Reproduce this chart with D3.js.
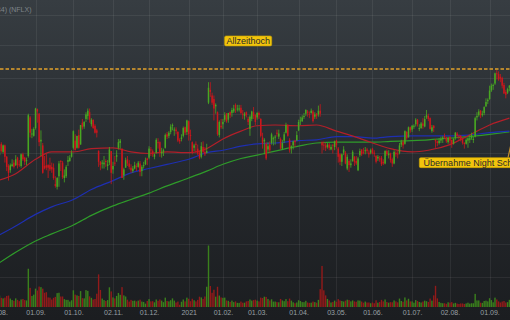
<!DOCTYPE html>
<html lang="de">
<head>
<meta charset="UTF-8">
<title>Netflix (NFLX)</title>
<script src="https://d3js.org/d3.v7.min.js"></script>
<style>
	html, body { margin: 0; padding: 0; background: #1c1e21; overflow: hidden; }
	svg { display: block; font-family: "Liberation Sans", Arial, sans-serif; }
</style>
</head>
<body>
<svg id="chart" width="510" height="320"></svg>
<script>
// daily candles, 03.08.2020 - 17.09.2021 (one row per month)
var opens = [
	502,497,511,501,509,495,484,479,484,488,485,494,486,484,498,494,490,496,545,523,521,
	531,556,550,514,509,484,485,485,485,483,482,463,460,472,490,488,470,472,489,490,495,
	506,515,506,522,510,538,533,543,547,552,536,542,534,528,502,489,487,486,490,484,488,502,
	480,488,495,506,512,505,473,482,492,487,482,478,481,484,483,487,478,484,486,493,
	494,504,502,495,500,513,513,499,501,506,523,521,526,534,528,529,526,516,517,521,532,526,
	540,522,513,506,511,505,500,495,507,501,500,565,583,575,570,560,552,522,534,
	536,542,550,542,552,551,553,562,556,556,558,550,547,552,543,530,543,552,548,
	545,551,543,519,514,511,504,510,512,517,519,525,520,517,505,515,525,534,516,505,509,515,515,
	528,540,540,546,550,553,550,551,553,546,550,549,554,513,510,509,507,510,504,510,507,
	515,505,498,489,500,500,481,490,485,490,495,490,479,497,504,501,502,504,500,500,
	505,500,496,493,493,494,489,487,502,497,499,492,487,500,499,500,510,513,511,526,519,532,
	529,533,536,542,530,531,537,533,545,547,544,527,534,516,514,512,515,517,521,519,513,
	520,516,511,518,524,521,521,517,512,511,515,516,518,516,520,545,548,554,548,551,560,567,
	570,582,589,592,607,606,602,600,590,580,579,586
];
var highs = [
	505,512,513,510,510,496,486,487,492,491,497,495,491,499,500,495,494,550,547,530,532,
	558,557,551,528,512,496,499,486,494,488,487,472,471,490,491,490,480,485,496,497,503,
	528,523,521,529,535,543,540,552,557,557,544,542,536,530,503,490,491,496,492,491,507,502,
	489,496,503,517,517,505,482,494,496,491,486,484,489,487,490,490,485,489,494,494,
	508,507,504,499,518,518,514,506,505,524,526,527,536,537,532,532,527,518,523,533,533,542,
	541,529,514,511,514,510,502,513,514,507,511,594,594,579,575,564,553,541,543,
	543,552,551,551,553,558,562,564,562,562,562,555,552,553,546,548,554,559,549,
	552,553,544,525,518,513,513,514,525,520,522,529,529,519,516,526,538,536,518,509,515,516,527,
	542,546,548,551,556,555,553,557,555,552,551,561,563,514,514,512,512,512,510,510,515,
	516,507,499,499,508,502,498,492,492,503,496,496,495,505,504,506,507,506,503,505,
	506,503,497,497,496,496,492,503,504,503,500,494,503,502,502,512,516,516,528,527,533,533,
	535,536,544,543,536,539,544,547,555,550,545,535,535,517,515,518,520,521,524,520,520,
	520,516,518,526,526,523,522,518,513,518,519,522,525,520,546,552,556,555,554,560,571,571,
	589,592,592,608,613,610,606,602,593,583,586,590
];
var lows = [
	494,495,500,499,488,478,467,476,483,481,484,481,483,482,490,485,485,494,519,518,520,
	529,538,508,496,475,480,479,470,478,476,468,459,457,460,478,469,465,470,484,489,494,
	504,503,505,505,510,529,530,539,542,538,533,530,524,519,483,479,481,481,483,479,485,463,
	475,484,489,504,505,470,468,482,484,480,476,476,480,478,482,472,472,481,485,485,
	492,496,495,492,499,505,495,494,496,505,517,518,523,528,521,523,513,511,514,519,522,522,
	515,515,498,502,500,497,492,493,499,496,499,563,573,562,541,550,521,519,530,
	530,539,538,538,544,546,551,551,553,553,549,543,542,545,535,521,540,543,535,
	542,543,519,505,498,491,501,500,510,509,510,520,517,504,504,512,524,520,500,499,504,507,515,
	527,535,539,543,547,546,544,550,538,543,543,546,546,499,503,502,505,503,503,499,503,
	505,488,485,484,497,486,479,477,482,489,484,485,478,495,496,498,498,499,494,498,
	498,495,487,490,489,484,485,486,496,493,488,483,486,495,493,498,507,505,510,516,519,525,
	526,530,533,533,527,530,530,532,543,540,529,525,526,506,508,510,512,512,517,512,511,
	511,506,510,516,518,516,514,510,505,510,506,512,516,512,519,541,546,544,546,548,559,563,
	569,580,583,590,598,596,594,585,577,571,577,581
];
var closes = [
	499,510,502,509,495,483,476,485,486,483,492,485,485,498,492,489,491,548,525,524,530,
	557,553,513,516,476,481,482,482,480,480,470,461,470,487,489,471,473,483,491,494,500,
	527,503,521,506,535,532,539,549,554,542,542,531,525,525,489,485,488,488,489,486,504,476,
	484,487,497,513,515,470,480,491,487,483,479,481,485,483,488,477,483,485,491,491,
	505,503,498,498,516,512,501,501,503,522,520,525,533,535,529,527,515,514,519,531,525,541,
	523,521,501,509,510,499,494,508,501,498,502,586,580,565,557,562,523,539,532,
	539,548,540,551,548,555,557,558,557,557,551,549,550,548,539,546,553,547,539,
	551,548,521,511,516,493,508,503,523,518,520,524,524,505,512,523,535,521,503,508,514,513,522,
	539,541,545,547,555,551,549,554,540,549,547,554,550,509,509,506,510,506,507,509,514,
	509,495,489,498,504,487,495,485,487,501,489,487,493,502,498,500,503,502,498,503,
	499,499,489,495,492,486,487,502,498,499,491,487,501,498,498,509,513,509,527,518,532,528,
	534,534,542,536,531,537,534,543,548,543,530,532,531,514,512,515,517,519,519,514,518,
	515,511,517,525,521,520,516,512,511,516,518,518,522,517,544,547,553,548,550,559,566,569,
	582,589,590,607,606,598,599,589,578,576,584,589
];
// volume in millions
var volumes = [
	5.2,6.1,4.9,4.6,5.0,5.9,6.1,4.5,3.7,3.3,4.6,3.8,3.1,4.0,4.3,3.7,3.5,20.4,10.2,5.9,6.6,
	9.8,8.8,10.9,10.6,9.8,7.6,7.9,5.1,5.0,4.0,4.9,5.4,7.4,7.6,5.6,5.6,4.2,3.8,3.8,2.9,3.6,
	8.9,6.6,6.2,5.9,8.5,4.7,4.6,9.0,8.6,5.7,4.9,4.0,4.3,7.1,17.4,9.1,4.5,3.7,3.2,3.7,10.5,8.3,
	5.1,4.6,5.9,7.5,6.5,10.6,6.2,5.6,3.9,2.9,3.8,3.3,3.4,3.0,3.4,3.9,2.9,2.7,1.8,3.2,
	4.2,3.0,3.1,2.5,4.0,3.3,4.0,3.4,2.6,5.0,3.2,3.0,3.6,4.6,3.4,2.4,2.9,1.2,2.8,4.0,3.0,5.0,
	4.4,3.1,4.4,3.6,3.0,3.8,5.5,5.1,4.3,5.6,10.8,32.8,11.2,7.6,9.2,5.5,10.8,6.1,5.1,
	4.9,5.0,3.5,3.3,2.7,3.4,2.6,3.0,2.2,2.2,2.9,2.3,2.3,3.0,3.2,4.0,3.4,3.7,3.9,
	3.4,3.0,5.0,4.8,5.5,5.4,4.3,3.5,4.1,2.9,2.9,2.6,2.5,4.3,3.5,3.1,4.2,3.1,4.5,3.4,2.5,2.0,2.4,
	3.6,3.2,2.6,2.6,3.3,2.4,2.2,2.3,2.9,2.6,2.3,3.8,9.5,21.9,8.9,6.2,4.3,3.5,2.4,2.7,3.4,
	2.8,4.2,3.5,3.2,2.9,3.4,3.9,3.7,3.0,3.5,3.0,2.8,3.5,3.4,2.9,2.3,2.9,2.4,2.4,2.0,
	2.4,2.0,3.6,2.3,2.7,3.8,3.0,4.0,2.7,2.3,2.6,2.5,3.5,3.0,2.5,4.5,3.2,2.8,5.1,3.5,4.4,3.0,
	3.0,2.3,3.7,3.2,2.7,2.4,2.9,3.4,3.1,2.7,4.5,3.4,6.2,11.3,4.6,2.7,2.2,2.0,2.0,1.7,2.5,
	2.3,2.6,1.9,2.2,1.8,1.6,1.9,1.9,1.6,1.9,2.3,1.8,2.0,2.0,7.0,3.5,3.5,2.3,2.2,3.2,3.4,3.0,
	4.7,3.7,2.5,5.0,4.0,3.0,2.4,2.9,3.2,2.4,2.6,3.8
];

// moving averages
var maDays = ["2020-08-03","2020-08-17","2020-09-01","2020-09-15","2020-10-01","2020-10-15",
	"2020-11-02","2020-11-16","2020-12-01","2020-12-15","2021-01-04","2021-01-19","2021-02-01",
	"2021-02-16","2021-03-01","2021-03-15","2021-04-01","2021-04-16","2021-05-03","2021-05-17",
	"2021-06-01","2021-06-15","2021-07-01","2021-07-15","2021-08-02","2021-08-16","2021-09-01","2021-09-17"];
var ma38  = [467,475,492,501,501,505,506,501,499,501,500,505,517,527,534,535,534,535,527,520,512,505,501,503,510,521,535,544];
var ma100 = [408,418,430,438,446,457,467,476,481,486,492,500,503,508,511,512,515,516,520,520,518,520,521,521,521,522,525,527];
var ma200 = [381,392,403,410,419,429,439,446,453,461,470,478,486,493,497,502,508,512,513,513,513,514,515,516,518,520,523,526];

var firstDay = "2020-08-03";
var holidays = ["2020-09-07","2020-11-26","2020-12-25","2021-01-01","2021-01-18","2021-02-15",
	"2021-04-02","2021-05-31","2021-07-05","2021-09-06"];

var priceGrid = [400, 450, 500, 550, 600, 650, 700];
var volumeGrid = [16];
var athPrice = 613;
var titleText = "Netflix Inc. (552484) (NFLX)";
var notes = [
	{text: "Allzeithoch", day: "2021-02-22", price: 657, anchor: "middle"},
	{text: "Übernahme Night School", day: "2021-07-09", price: 488, anchor: "start", target: "2021-09-28", targetPrice: 575}
];

var W = 510, H = 320;
var svg = d3.select("#chart");

// trading calendar
var parseDay = d3.utcParse("%Y-%m-%d"), fmtDay = d3.utcFormat("%Y-%m-%d");
var days = [];
var cur = parseDay(firstDay);
while (days.length < closes.length + 10) {
	var wd = cur.getUTCDay();
	if (wd != 0 && wd != 6 && holidays.indexOf(fmtDay(cur)) < 0) days.push(fmtDay(cur));
	cur = d3.utcDay.offset(cur, 1);
}
function idx(day) { return days.indexOf(day); }

var x = d3.scaleLinear().domain([0, closes.length - 1]).range([-2.3, 509.4]);
var y = d3.scaleLog().domain([400, 700]).range([244, 15]);
var yv = d3.scaleLinear().domain([0, 16]).range([307, 277]);

// background
var defs = svg.append("defs");
var grad = defs.append("linearGradient").attr("id", "bg").attr("x1", 0).attr("y1", 0).attr("x2", 0).attr("y2", 1);
grad.append("stop").attr("offset", "0%").attr("stop-color", "#373d42");
grad.append("stop").attr("offset", "50%").attr("stop-color", "#262a2e");
grad.append("stop").attr("offset", "100%").attr("stop-color", "#1b1d20");
svg.append("rect").attr("width", W).attr("height", H).attr("fill", "url(#bg)");

// month starts
var monthStarts = [];
for (var i = 0; i < closes.length; i++) {
	if (i == 0 || days[i].slice(0, 7) != days[i - 1].slice(0, 7)) monthStarts.push(i);
}

var grid = svg.append("g").attr("stroke", "rgba(255,255,255,0.065)").attr("stroke-width", 1);
grid.selectAll(".hg").data(priceGrid).enter().append("line")
	.attr("x1", 0).attr("x2", W)
	.attr("y1", function(d){ return Math.round(y(d)) + 0.5; })
	.attr("y2", function(d){ return Math.round(y(d)) + 0.5; });
grid.selectAll(".vg").data(volumeGrid).enter().append("line")
	.attr("x1", 0).attr("x2", W)
	.attr("y1", function(d){ return Math.round(yv(d)) + 0.5; })
	.attr("y2", function(d){ return Math.round(yv(d)) + 0.5; });
grid.selectAll(".mg").data(monthStarts).enter().append("line")
	.attr("y1", 0).attr("y2", 307)
	.attr("x1", function(d){ return Math.round(x(d)) + 0.5; })
	.attr("x2", function(d){ return Math.round(x(d)) + 0.5; });

// x axis labels
var fmtTick = d3.utcFormat("%d.%m.");
var axis = d3.axisBottom(x).tickValues(monthStarts).tickSize(0)
	.tickFormat(function(i){
		var dt = parseDay(days[i]);
		return dt.getUTCMonth() == 0 ? String(dt.getUTCFullYear()) : fmtTick(dt);
	});
var ax = svg.append("g").attr("transform", "translate(0,307)").call(axis);
ax.select(".domain").remove();
ax.selectAll("text").attr("fill", "#9aa0a5").attr("font-size", 7)
	.attr("font-family", "Liberation Sans, Arial, sans-serif");

// volume
svg.append("g").selectAll("rect").data(volumes).enter().append("rect")
	.attr("x", function(d, i){ return x(i) - 0.7; })
	.attr("width", 1.4)
	.attr("y", function(d){ return yv(d); })
	.attr("height", function(d){ return yv(0) - yv(d); })
	.attr("fill", function(d, i){ return closes[i] >= opens[i] ? "#3a801c" : "#921a1a"; });

// moving averages
var maLine = d3.line()
	.x(function(d){ return x(idx(d[0])); })
	.y(function(d){ return y(d[1]); })
	.curve(d3.curveMonotoneX);
[[ma200, "#2f9b2a"], [ma100, "#1e2fb2"], [ma38, "#b21f29"]].forEach(function(m){
	svg.append("path").datum(maDays.map(function(d, i){ return [d, m[0][i]]; }))
		.attr("d", maLine).attr("fill", "none")
		.attr("stroke", m[1]).attr("stroke-width", 1.2);
});

// candles
var candles = svg.append("g").selectAll("g").data(closes).enter().append("g")
	.attr("fill", function(d, i){ return d >= opens[i] ? "#48a722" : "#cc161c"; })
	.attr("stroke", function(d, i){ return d >= opens[i] ? "#48a722" : "#cc161c"; });
candles.append("line")
	.attr("x1", function(d, i){ return x(i); })
	.attr("x2", function(d, i){ return x(i); })
	.attr("y1", function(d, i){ return y(highs[i]); })
	.attr("y2", function(d, i){ return y(lows[i]); })
	.attr("stroke-width", 0.8);
candles.append("rect")
	.attr("stroke", "none")
	.attr("x", function(d, i){ return x(i) - 0.75; })
	.attr("width", 1.5)
	.attr("y", function(d, i){ return y(Math.max(d, opens[i])); })
	.attr("height", function(d, i){ return Math.max(1, y(Math.min(d, opens[i])) - y(Math.max(d, opens[i]))); });

// all-time high line
svg.append("line")
	.attr("x1", 0).attr("x2", W)
	.attr("y1", Math.round(y(athPrice))).attr("y2", Math.round(y(athPrice)))
	.attr("stroke", "#b5862e").attr("stroke-width", 2)
	.attr("stroke-dasharray", "3.5,2");

// notes
notes.forEach(function(n){
	var nx = x(idx(n.day)), ny = y(n.price);
	if (n.target) {
		var tx = x(idx(n.target)), ty = y(n.targetPrice);
		svg.append("line").attr("x1", tx).attr("y1", ty).attr("x2", tx - 14).attr("y2", ny - 5)
			.attr("stroke", "#c8902a").attr("stroke-width", 1.2);
	}
	var g = svg.append("g");
	var box = g.append("rect");
	var t = g.append("text").text(n.text)
		.attr("x", nx).attr("y", ny + 3.2)
		.attr("text-anchor", n.anchor)
		.attr("font-size", 9).attr("fill", "#2a2a2a");
	var w = t.node().getComputedTextLength();
	var left = n.anchor == "middle" ? nx - w / 2 : nx;
	if (n.anchor == "start") t.attr("x", nx + 2.5);
	box.attr("x", left - 1.8).attr("y", ny - 5)
		.attr("width", w + (n.anchor == "start" ? 6 : 3.6)).attr("height", 10).attr("rx", 1.5)
		.attr("fill", "#f2c40c").attr("stroke", "#c9a200").attr("stroke-width", 0.6);
});

// title (cut at the left edge as in the source image)
svg.append("text").text(titleText)
	.attr("x", 31.5).attr("y", 12).attr("text-anchor", "end")
	.attr("font-size", 7).attr("fill", "#7e858b");
</script>
</body>
</html>
